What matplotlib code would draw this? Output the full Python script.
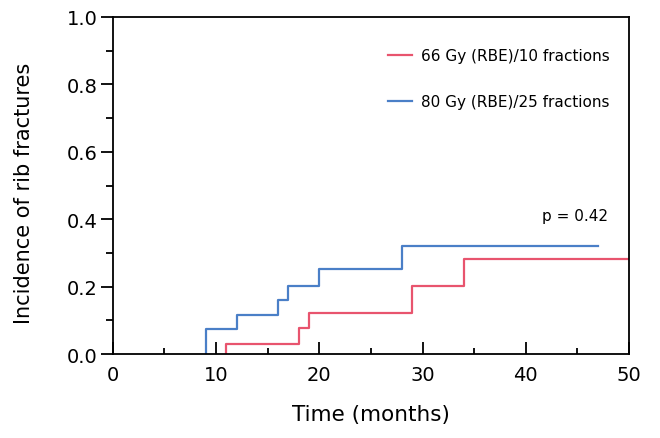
import numpy as np
import matplotlib
matplotlib.use("Agg")
import matplotlib.pyplot as plt
from matplotlib.ticker import MultipleLocator

# Cumulative incidence of rib fractures
red_label = "66 Gy (RBE)/10 fractions"
red_times = [11, 18, 19, 29, 34, 50]
red_values = [0.03, 0.077, 0.122, 0.202, 0.282, 0.282]

blue_label = "80 Gy (RBE)/25 fractions"
blue_times = [9, 12, 16, 17, 20, 28, 47]
blue_values = [0.075, 0.117, 0.162, 0.203, 0.252, 0.32, 0.32]

p_text = "p = 0.42"

RED = "#e8546e"
BLUE = "#4a7fc7"

plt.rcParams['font.family'] = ['DejaVu Sans']

fig = plt.figure(figsize=(6.6, 4.39), dpi=100)
ax = fig.add_axes([0.171, 0.191, 0.782, 0.768])


def step_xy(times, values):
    # first event starts from zero incidence
    x = np.concatenate([[times[0]], times])
    y = np.concatenate([[0.0], values])
    return x, y


x, y = step_xy(red_times, red_values)
ax.step(x, y, where='post', color=RED, lw=1.6, label=red_label)
x, y = step_xy(blue_times, blue_values)
ax.step(x, y, where='post', color=BLUE, lw=1.6, label=blue_label)

ax.set_xlim(0, 50)
ax.set_ylim(0, 1.0)
ax.xaxis.set_major_locator(MultipleLocator(10))
ax.xaxis.set_minor_locator(MultipleLocator(5))
ax.yaxis.set_major_locator(MultipleLocator(0.2))
ax.yaxis.set_minor_locator(MultipleLocator(0.1))
ax.yaxis.set_major_formatter(plt.FuncFormatter(lambda v, p: f"{v:.1f}"))

ax.tick_params(axis='x', which='major', direction='in', length=9, width=1.3,
               labelsize=14, pad=8)
ax.tick_params(axis='x', which='minor', direction='in', length=4, width=1.3)
ax.tick_params(axis='y', which='major', direction='out', length=9, width=1.3,
               labelsize=14, pad=2)
ax.tick_params(axis='y', which='minor', direction='out', length=5, width=1.3)
for s in ax.spines.values():
    s.set_linewidth(1.3)

ax.set_xlabel("Time (months)", fontsize=15.5, labelpad=14)
ax.set_ylabel("Incidence of rib fractures", fontsize=15)
ax.yaxis.set_label_coords(-0.152, 0.48)

ax.text(44.8, 0.41, p_text, fontsize=11, ha='center', va='center')

ax.legend(loc='upper left', bbox_to_anchor=(0.521, 0.925), frameon=False,
          fontsize=11, handlelength=1.6, handletextpad=0.6, labelspacing=2.0,
          borderaxespad=0)

fig.savefig("out.png", dpi=100)
plt.close(fig)
